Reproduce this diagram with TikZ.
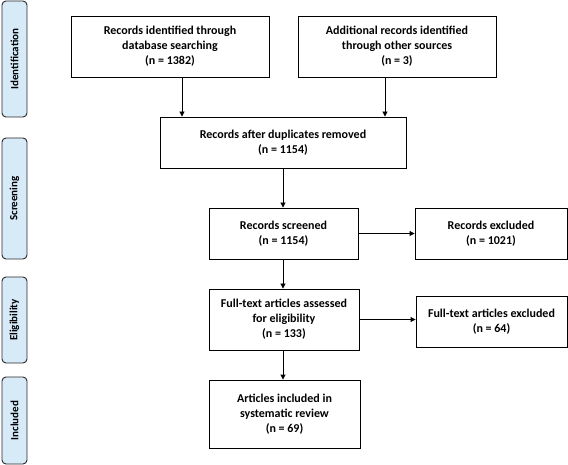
\documentclass[tikz,border=0pt]{standalone}
\usepackage{fontspec}
\setmainfont{Carlito}
\usetikzlibrary{arrows.meta}
\definecolor{sidefill}{RGB}{214,234,248}
\definecolor{sideline}{RGB}{40,40,40}
\begin{document}
\begin{tikzpicture}[x=1pt,y=-1pt,
  box/.style={draw,line width=0.9pt,align=center,inner sep=2pt,
    font=\fontsize{12}{15}\selectfont\bfseries},
  side/.style={draw=sideline,line width=0.9pt,fill=sidefill,rounded corners=4pt,
    rotate=90,minimum height=25pt,inner sep=0pt,
    font=\fontsize{11}{13}\selectfont\bfseries},
  arr/.style={line width=0.9pt,-{Triangle[length=5pt,width=5pt]}}]
\useasboundingbox (0,0) rectangle (568,465);
\fill[white] (0,0) rectangle (568,465);
% side labels
\node[side,minimum width=116pt] (sid) at (14.5,59) {Identification};
\node[side,minimum width=121pt] (sscr) at (14.5,198.5) {Screening};
\node[side,minimum width=86pt] (selg) at (14.5,320) {Eligibility};
\node[side,minimum width=87pt] (sinc) at (14.5,420.5) {Included};
% boxes
\node[box,minimum width=198pt,minimum height=61pt] (b1) at (170,46.5)
  {Records identified through\\database searching\\(n = 1382)};
\node[box,minimum width=198pt,minimum height=61pt] (b2) at (397,46.5)
  {Additional records identified\\through other sources\\(n = 3)};
\node[box,minimum width=246pt,minimum height=51pt] (b3) at (283,142.5)
  {Records after duplicates removed\\(n = 1154)};
\node[box,minimum width=149pt,minimum height=51pt] (b4) at (283.5,233.5)
  {Records screened\\(n = 1154)};
\node[box,minimum width=152pt,minimum height=51pt] (b5) at (491,233.5)
  {Records excluded\\(n = 1021)};
\node[box,minimum width=150pt,minimum height=61pt] (b6) at (284,319.5)
  {Full-text articles assessed\\for eligibility\\(n = 133)};
\node[box,minimum width=151pt,minimum height=51pt] (b7) at (491.5,321.5)
  {Full-text articles excluded\\(n = 64)};
\node[box,minimum width=151pt,minimum height=68pt] (b8) at (284.5,414)
  {Articles included in\\systematic review\\(n = 69)};
% connectors
\coordinate (xa) at (182,0);
\coordinate (xb) at (385,0);
\coordinate (xc) at (283,0);
\draw[arr] (b1.south -| xa) -- (b3.north -| xa);
\draw[arr] (b2.south -| xb) -- (b3.north -| xb);
\draw[arr] (b3.south -| xc) -- (b4.north -| xc);
\draw[arr] (b4.east) -- (b5.west |- b4.east);
\draw[arr] (b4.south -| xc) -- (b6.north -| xc);
\draw[arr] (b6.east) -- (b7.west |- b6.east);
\draw[arr] (b6.south -| xc) -- (b8.north -| xc);
\end{tikzpicture}
\end{document}
